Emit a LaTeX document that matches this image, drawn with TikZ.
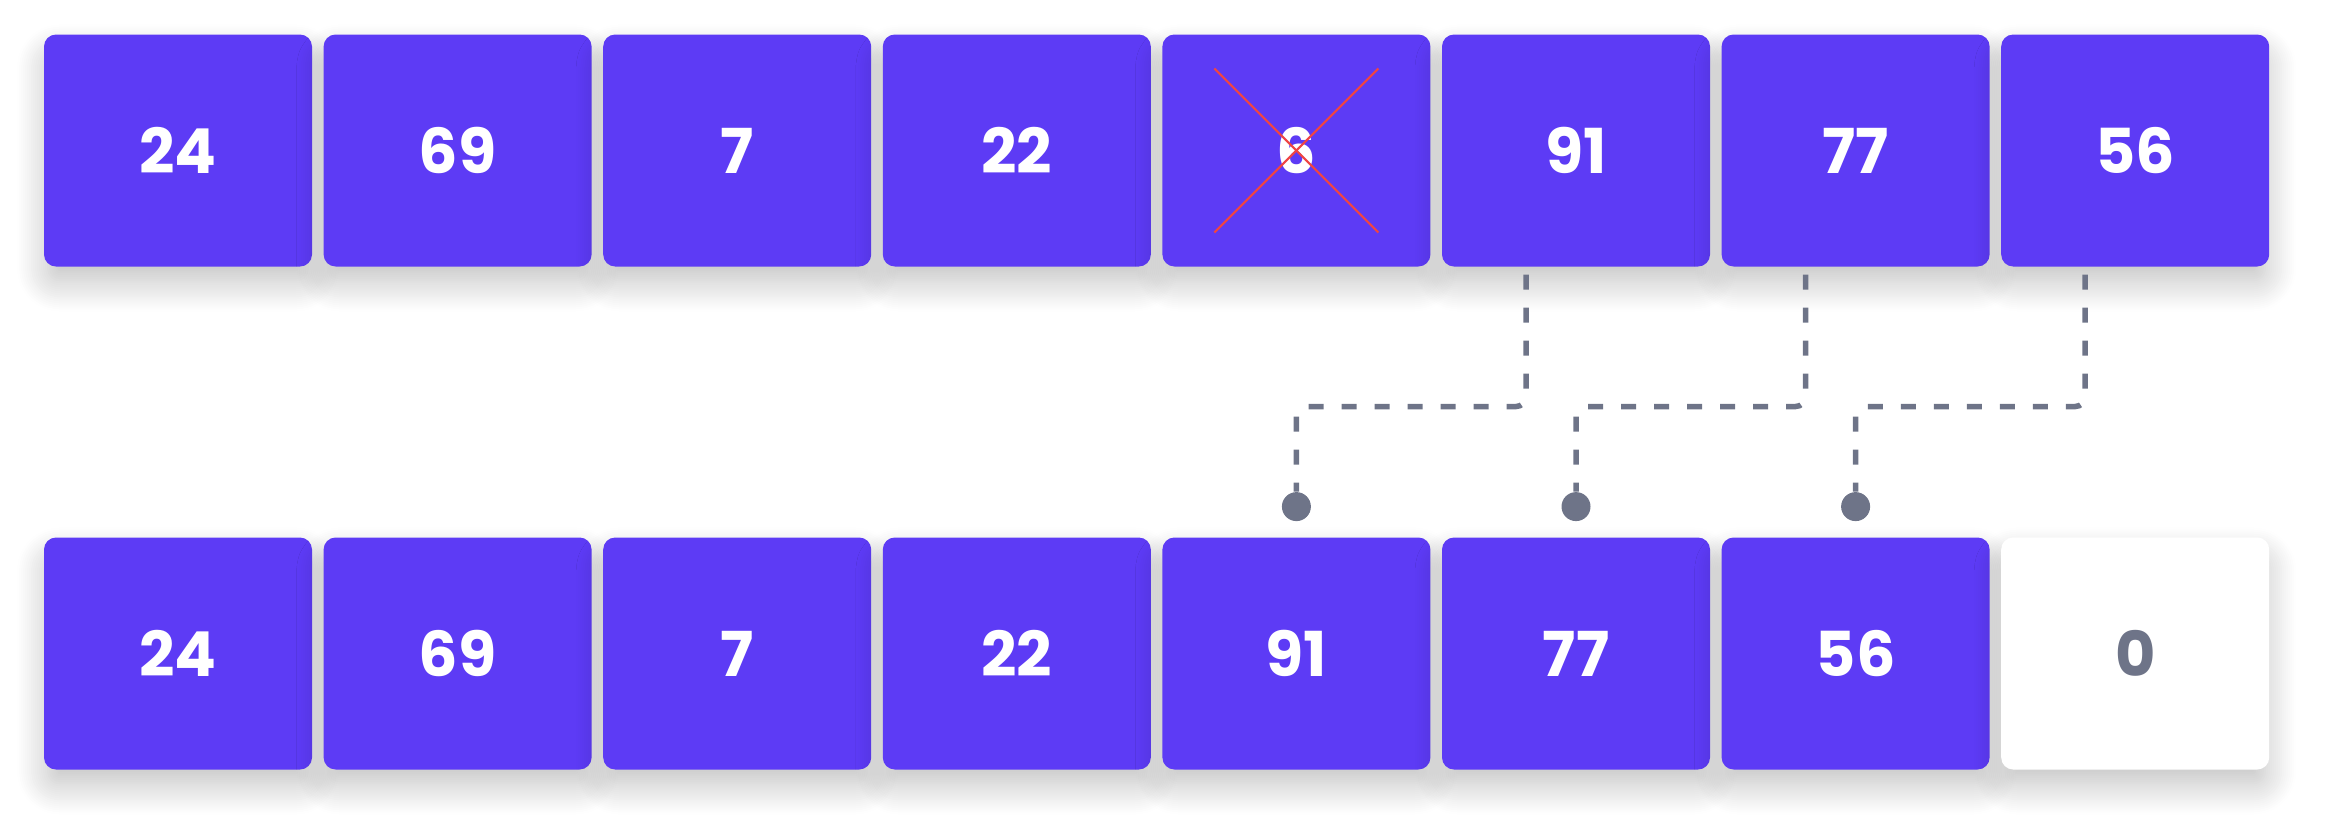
\documentclass[tikz,border=0pt]{standalone}
\usepackage{fontspec}
\setmainfont{Poppins}
\usepackage{xcolor}
\usetikzlibrary{positioning, shadows.blur}
\definecolor{cellpurple}{HTML}{5D3BF5}
\definecolor{linkgray}{HTML}{6E7488}
\definecolor{crossred}{HTML}{EF4444}

\begin{document}
\begin{tikzpicture}[x=0.5pt, y=-0.5pt]
			\tikzstyle{cell}=[rectangle, rounded corners=6pt, minimum width=134pt, minimum height=116pt, inner sep=0pt, outer sep=0pt, fill=cellpurple, text=white, font=\fontsize{31}{36}\selectfont\bfseries, blur shadow={shadow xshift=0pt, shadow yshift=-9pt, shadow blur radius=16pt, shadow blur steps=16, shadow opacity=26, shadow scale=0.97}]
			\tikzstyle{emptycell}=[cell, fill=white, text=linkgray]
			\tikzstyle{link}=[draw=linkgray, line width=2.75pt, dash pattern=on 7.5pt off 9pt, rounded corners=5pt]
			\tikzstyle{pin}=[circle, fill=linkgray, minimum size=14.5pt, inner sep=0pt]
			
			\useasboundingbox (0,0) rectangle (2326,826);
			
			% array before the removal
			\node[cell](a1) at (178,150.5) {24};
			\node[cell, right=5.8pt of a1](a2) {69};
			\node[cell, right=5.8pt of a2](a3) {7};
			\node[cell, right=5.8pt of a3](a4) {22};
			\node[cell, right=5.8pt of a4](a5) {6};
			\node[cell, right=5.8pt of a5](a6) {91};
			\node[cell, right=5.8pt of a6](a7) {77};
			\node[cell, right=5.8pt of a7](a8) {56};
			
			\draw[crossred, line width=1.1pt] ([shift={(-82,-82)}]a5.center) -- ([shift={(82,82)}]a5.center);
			\draw[crossred, line width=1.1pt] ([shift={(82,-82)}]a5.center) -- ([shift={(-82,82)}]a5.center);
			
			% array after the shift
			\node[cell](b1) at (178,653.5) {24};
			\node[cell, right=5.8pt of b1](b2) {69};
			\node[cell, right=5.8pt of b2](b3) {7};
			\node[cell, right=5.8pt of b3](b4) {22};
			\node[cell, right=5.8pt of b4](b5) {91};
			\node[cell, right=5.8pt of b5](b6) {77};
			\node[cell, right=5.8pt of b6](b7) {56};
			\node[emptycell, right=5.8pt of b7](b8) {0};
			
			\node[pin, above=8pt of b5](d5) {};
			\node[pin, above=8pt of b6](d6) {};
			\node[pin, above=8pt of b7](d7) {};
			
			\coordinate (s6) at ([xshift=-25pt, yshift=-4pt]a6.south);
			\coordinate (s7) at ([xshift=-25pt, yshift=-4pt]a7.south);
			\coordinate (s8) at ([xshift=-25pt, yshift=-4pt]a8.south);
			
			\draw[link] (s6) -- ++(0,132) -| (d5);
			\draw[link] (s7) -- ++(0,132) -| (d6);
			\draw[link] (s8) -- ++(0,132) -| (d7);
			
			\end{tikzpicture}
\end{document}
